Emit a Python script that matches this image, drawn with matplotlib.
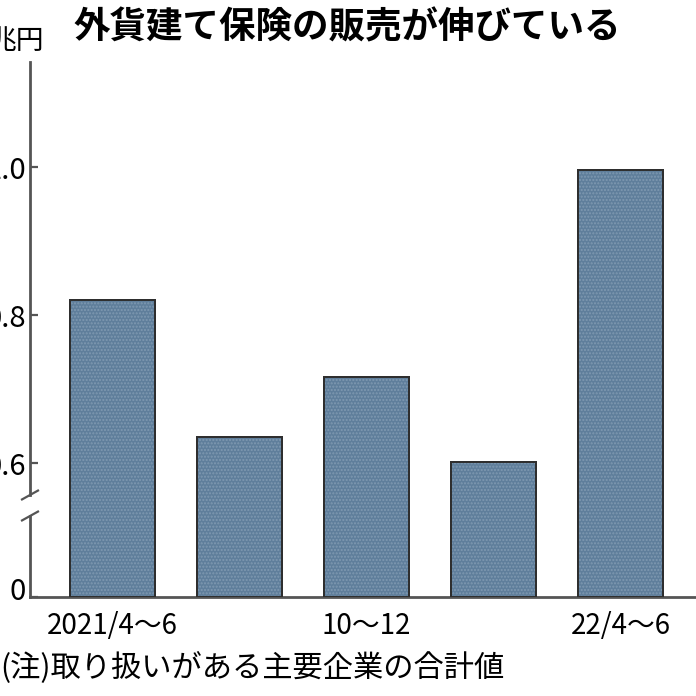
import matplotlib
matplotlib.use('Agg')
import matplotlib.pyplot as plt
import matplotlib.transforms as mtransforms
from matplotlib.lines import Line2D

plt.rcParams['font.family'] = ['Noto Sans CJK JP', 'DejaVu Sans']

# 外貨建て保険の販売額（兆円）、四半期ごと
quarters = ['2021/4〜6', '7〜9', '10〜12', '22/1〜3', '22/4〜6']
sales = [0.820, 0.635, 0.716, 0.601, 0.996]
shown_labels = ['2021/4〜6', '', '10〜12', '', '22/4〜6']
ytick_values = [0, 0.6, 0.8, 1.0]
ytick_labels = ['0', '0.6', '0.8', '1.0']

# the axis is broken between 0 and 0.6: 0.6 sits this far above the baseline
BREAK_BASE = 0.6
BREAK_GAP = 0.181


def squash(v):
    # map a real value onto the broken axis
    if v <= 0:
        return 0.0
    return v - BREAK_BASE + BREAK_GAP


bar_color = '#5f7e9b'
edge_color = '#2e2e2e'
axis_color = '#555555'

fig = plt.figure(figsize=(6.96, 6.96), dpi=100)
ax = fig.add_axes([30 / 696, 1 - 597 / 696, 666 / 696, 535 / 696])

x = list(range(len(quarters)))
heights = [squash(v) for v in sales]
ax.bar(x, heights, width=0.669, color=bar_color, edgecolor=edge_color,
       linewidth=1.4, zorder=2)
# light stipple on top of the fill
ax.bar(x, heights, width=0.669, color='none', edgecolor='#7f99b1',
       linewidth=0, hatch='.....', zorder=3)
ax.bar(x, heights, width=0.669, color='none', edgecolor=edge_color,
       linewidth=1.4, zorder=4)

ax.set_xlim(-0.6496, 4.594)
ax.set_ylim(0, 0.723)

ax.set_yticks([squash(v) for v in ytick_values])
ax.set_yticklabels(ytick_labels)
ax.set_xticks(x)
ax.set_xticklabels(shown_labels)
ax.tick_params(axis='y', direction='in', length=6, width=1.6, color=axis_color,
               labelsize=21, pad=3)
ax.tick_params(axis='x', length=0, labelsize=20, pad=10)

# the "0" label sits a little above the baseline
zero_label = ax.get_yticklabels()[0]
zero_label.set_transform(zero_label.get_transform() +
                         mtransforms.ScaledTranslation(0, 9 / 100, fig.dpi_scale_trans))

for side in ['top', 'right', 'left']:
    ax.spines[side].set_visible(False)
ax.spines['bottom'].set_color(axis_color)
ax.spines['bottom'].set_linewidth(2)

# left axis drawn by hand so it can carry the break marks
tr = ax.get_yaxis_transform()
upper = (597 - 495) / 740
lower = (597 - 516) / 740
ax.add_line(Line2D([0, 0], [upper, 0.723], transform=tr, color=axis_color,
                   lw=2, clip_on=False, zorder=5))
ax.add_line(Line2D([0, 0], [0, lower], transform=tr, color=axis_color,
                   lw=2, clip_on=False, zorder=5))
for yb in (upper, lower):
    ax.add_line(Line2D([-0.012, 0.012], [yb - 0.006, yb + 0.006], transform=tr,
                       color=axis_color, lw=1.6, clip_on=False, zorder=5))

fig.text(347 / 696, 1 - 28 / 696, '外貨建て保険の販売が伸びている', ha='center',
         va='center', fontsize=26.3, fontweight='bold')
fig.text(44 / 696, 1 - 41 / 696, '兆円', ha='right', va='center', fontsize=20)
fig.text(0.0, 1 - 667 / 696, '(注)取り扱いがある主要企業の合計値', ha='left',
         va='center', fontsize=21.8)

fig.savefig('out.png', dpi=100)
